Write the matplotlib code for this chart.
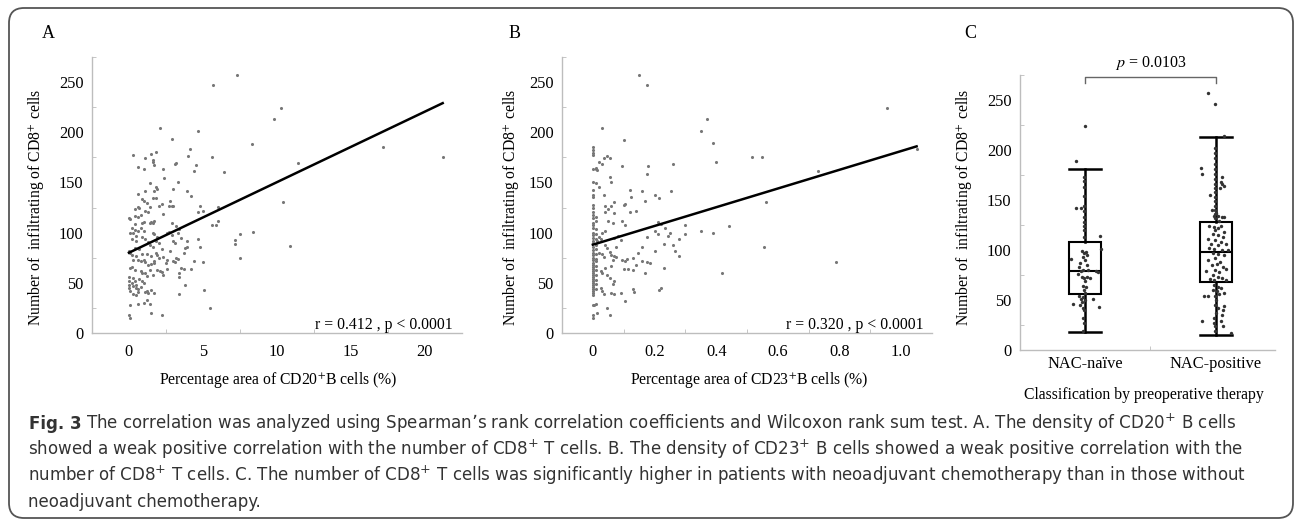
import matplotlib.pyplot as plt
from matplotlib.patches import FancyBboxPatch
from matplotlib.ticker import FixedLocator

# Panel A: CD20+ B cell area (%) vs CD8+ count
cd20_area = [7.3, 5.7, 10.3, 9.8, 4.7, 8.3, 17.2, 21.2, 5.6, 11.4, 6.4, 4.5, 4.4, 4.0, 4.1, 10.4,
             6.0, 4.8, 4.7, 5.0, 5.6, 5.9, 6.0, 7.2, 7.2, 7.5, 8.4, 10.9, 7.5, 4.7, 4.8, 4.4, 5.0,
             4.2, 5.1, 5.5,
             2.1, 2.9, 3.1, 3.2, 2.3, 2.4, 3.3, 3.0, 3.9, 4.2, 2.8, 2.9, 3.0, 2.7, 2.2, 2.3, 3.2,
             3.4, 3.3, 3.5, 2.6, 2.9, 3.0, 3.1, 2.9, 2.7, 3.9, 3.9, 3.8, 3.7, 2.8, 3.2, 3.3, 3.0,
             3.1, 2.6, 2.2, 2.3, 2.5, 3.5, 3.4, 3.4, 3.7, 3.8, 3.4, 2.6, 2.2, 2.3, 2.2, 2.1, 1.9,
             1.8, 1.5, 1.6, 1.7, 1.6, 0.3, 1.1, 0.6, 1.0, 1.4, 1.8, 1.9, 1.7, 0.6, 1.1, 0.9, 1.2,
             1.0, 1.6, 1.8, 2.0, 1.4, 0.4, 0.6, 0.7, 0.8, 0.4, 0.0, 0.1, 0.4, 0.2, 0.6, 1.1, 1.3,
             1.0, 0.9, 1.5, 1.4, 1.6, 1.7, 0.1, 0.3, 0.5, 0.4, 0.8, 1.0, 0.6, 0.2, 0.5, 0.9, 1.1,
             1.3, 1.6, 1.7, 1.9, 1.8, 2.0, 1.4, 1.6, 0.0, 0.1, 0.2, 0.4, 0.7, 0.5, 0.9, 1.2, 1.5,
             1.8, 1.9, 2.0, 1.7, 0.3, 0.6, 0.8, 1.0, 1.1, 1.3, 1.5, 1.7, 0.2, 0.4, 0.8, 0.9, 1.1,
             1.2, 1.4, 1.6, 0.0, 0.3, 0.4, 0.7, 0.9, 1.0, 0.2, 0.5, 0.0, 0.0, 0.1, 0.3, 0.5, 0.6,
             0.8, 0.3, 0.5, 0.6, 1.1, 1.3, 1.5, 1.7, 1.2, 0.1, 0.6, 1.0, 1.2, 1.4, 0.0, 0.1, 1.5,
             0.0, 0.1]
cd8_a = [257, 247, 224, 213, 201, 188, 185, 175, 175, 169, 160, 167, 161, 176, 183, 131,
         126, 127, 121, 122, 108, 108, 112, 93, 89, 99, 101, 87, 75, 94, 86, 72, 71,
         64, 43, 25,
         204, 193, 168, 169, 163, 154, 150, 143, 141, 137, 132, 127, 127, 127, 129, 119, 107,
         104, 100, 95, 100, 98, 92, 90, 110, 101, 92, 86, 85, 80, 82, 75, 74, 72,
         71, 73, 84, 76, 70, 65, 60, 56, 64, 48, 39, 64, 61, 58, 18, 62, 63,
         180, 178, 172, 167, 170, 177, 174, 165, 163, 149, 145, 143, 141, 139, 141, 134, 130,
         132, 135, 135, 127, 126, 124, 126, 125, 118, 117, 115, 114, 109, 105, 116, 122, 121,
         111, 110, 111, 110, 110, 112, 100, 100, 97, 103, 105, 102, 102, 94, 92, 96, 94,
         91, 100, 99, 96, 92, 90, 88, 86, 82, 80, 78, 85, 84, 77, 79, 79, 77,
         80, 78, 75, 72, 73, 73, 72, 73, 71, 68, 69, 70, 66, 63, 62, 60, 60,
         57, 63, 58, 56, 55, 52, 54, 52, 50, 50, 48, 48, 45, 42, 47, 45, 44,
         46, 39, 38, 41, 41, 40, 43, 40, 42, 28, 29, 30, 33, 29, 18, 15, 20,
         52, 65]

# Panel B: CD23+ B cell area (%) vs CD8+ count
cd23_area = [0.15, 0.175, 0.955, 0.37, 0.35, 0.39, 0.40, 0.515, 0.55, 1.05, 0.73, 0.56, 0.26,
             0.18, 0.175, 0.16, 0.17, 0.20, 0.215, 0.255, 0.10, 0.03, 0.095, 0.12, 0.125, 0.14,
             0.12, 0.10, 0.105, 0.095, 0.105, 0.21, 0.22, 0.235, 0.25, 0.245, 0.30, 0.30, 0.28,
             0.20, 0.21, 0.23, 0.26, 0.265, 0.28, 0.35, 0.39, 0.44, 0.20, 0.175, 0.16, 0.555,
             0.79, 0.42, 0.23, 0.17, 0.22, 0.215, 0.13, 0.135, 0.175, 0.185, 0.16, 0.145, 0.13,
             0.14, 0.13, 0.11, 0.105, 0.095, 0.115, 0.10, 0.09, 0.105, 0.08, 0.07, 0.09, 0.075,
             0.065, 0.07, 0.06, 0.07, 0.04, 0.05, 0.04, 0.05, 0.055, 0.06, 0.045, 0.055, 0.035,
             0.02, 0.03, 0.01, 0.015, 0.02, 0.035, 0.04, 0.03, 0.02, 0.025, 0.015, 0.04, 0.045,
             0.055, 0.06, 0.07, 0.075, 0.065, 0.02, 0.03, 0.035, 0.04, 0.06, 0.025, 0.03, 0.045,
             0.055, 0.07, 0.065, 0.06, 0.07, 0.025, 0.03, 0.035, 0.045, 0.055, 0.01, 0.005, 0.015,
             0, 0, 0, 0, 0, 0, 0, 0, 0, 0, 0, 0, 0, 0, 0, 0, 0, 0, 0, 0, 0, 0, 0, 0,
             0, 0, 0, 0, 0, 0, 0, 0, 0, 0, 0, 0, 0, 0, 0, 0, 0, 0, 0, 0, 0, 0, 0, 0,
             0.01, 0.01, 0.01, 0.01, 0.01, 0.01, 0.01, 0.01, 0.01, 0.01, 0.01, 0.01, 0.01, 0.01,
             0.01, 0.01, 0.01, 0.01]
cd8_b = [257, 247, 224, 213, 201, 189, 170, 175, 175, 183, 161, 131, 168,
         166, 158, 141, 132, 138, 135, 141, 192, 204, 166, 142, 136, 122,
         121, 128, 129, 112, 108, 111, 109, 105, 100, 97, 108, 99, 94,
         102, 99, 89, 88, 82, 77, 102, 100, 107, 82, 96, 86, 86,
         71, 60, 65, 60, 45, 43, 44, 41, 71, 70, 72, 80, 75,
         68, 63, 74, 72, 73, 64, 64, 40, 32, 97, 95, 93, 86,
         110, 120, 127, 131, 127, 124, 121, 112, 155, 150, 176, 174, 174,
         170, 168, 164, 162, 145, 138, 102, 100, 96, 94, 92, 88, 85,
         81, 78, 77, 76, 73, 80, 79, 76, 65, 67, 62, 60, 58,
         55, 52, 49, 40, 39, 45, 42, 39, 25, 18, 29, 28, 20,
         185, 182, 179, 177, 163, 150, 142, 138, 136, 128, 125, 121, 118, 115, 110, 108,
         105, 100, 98, 95, 92, 90, 86, 83, 80, 78, 75, 73, 70, 68, 66, 64, 62, 60, 58, 56,
         54, 52, 50, 48, 46, 44, 42, 40, 38, 28, 18, 15,
         163, 149, 116, 112, 104, 99, 94, 88, 84, 79, 74, 72, 67, 63, 58, 53, 49, 44]

# regression lines (intercept, slope, x end)
fit_a = (80, 7.03, 21.2)
fit_b = (88, 93.3, 1.05)

# Panel C: groups, box stats and jittered points
groups = ['NAC-naïve', 'NAC-positive']
box_stats = [
    dict(whislo=18, q1=56, med=79, q3=108, whishi=181),
    dict(whislo=15, q1=68, med=98, q3=128, whishi=213),
]
naive_vals = [224, 189, 173, 169, 163, 154, 144, 139, 133, 128, 124, 120, 113, 142, 142, 114, 101, 91,
              99, 97, 98, 95, 93, 90, 87, 83, 85, 80, 80, 79, 78, 73, 72, 73, 72, 69, 64, 63, 60, 57, 76, 79,
              54, 53, 51, 50, 46, 51, 43, 45, 42, 40, 48, 32, 27, 19]
naive_jit = [0, -0.071, -0.005, -0.005, -0.005, -0.005, -0.005, -0.005, -0.005, -0.005, -0.005, -0.005,
             -0.005, -0.069, -0.033, 0.115, 0.12, -0.107,
             -0.025, -0.008, 0.008, 0.013, -0.013, 0, -0.038, -0.044, 0.013, -0.018, 0.025, 0.084, 0.102,
             -0.025, -0.008, 0.013, 0.038, 0, -0.013, 0.008, -0.008, 0, -0.051, -0.033,
             -0.044, -0.013, -0.033, 0, -0.094, 0.059, 0.109, -0.038, -0.018, -0.008, -0.025, -0.013,
             -0.008, -0.018]
positive_vals = [257, 246, 214, 202, 197, 192, 186, 181, 176, 171, 166, 162, 158, 153, 149, 144, 140, 136, 132,
                 182, 176, 173, 168, 164, 162, 166, 155, 140, 137, 134, 133, 133, 129, 134,
                 124, 123, 122, 124, 120, 118, 116, 115, 111, 113, 110, 108, 106, 106, 105, 102, 101, 100,
                 100, 97, 96, 95, 92, 90, 88, 86, 85, 83, 81, 80, 78, 79, 75, 73, 72, 71, 70, 70,
                 65, 63, 62, 60, 59, 56, 54, 57, 54, 54, 50, 45, 42, 44, 40, 37, 35, 32, 27, 29, 29,
                 24, 24, 17, 19]
positive_jit = [-0.063, -0.008, 0.063, -0.008, -0.008, -0.008, -0.008, -0.008, -0.008, -0.008, -0.008,
                -0.008, -0.008, -0.008, -0.008, -0.008, -0.008, -0.008, -0.008,
                -0.115, -0.109, 0.048, 0.038, 0.059, 0.033, 0.044, -0.044, -0.033, 0, 0.013, 0.044, 0.063,
                0.025, -0.013,
                -0.051, -0.018, 0.013, 0.038, -0.008, 0.063, -0.025, 0.013, -0.063, 0.051, -0.008, 0.038,
                -0.038, 0.076, 0.013, -0.051, -0.013, 0.044, 0.089, -0.025, 0.013, 0.059, -0.008, -0.063,
                0.033, 0.008, -0.033, 0.051, 0.076, -0.008, 0.025, -0.076, -0.025, 0.013, 0.044, -0.044,
                -0.013, 0.076,
                -0.013, 0.013, 0.038, -0.025, 0.008, 0.025, -0.008, 0.063, -0.089, -0.063, 0, -0.008,
                0.013, 0.063, 0.051, 0, 0.044, -0.013, -0.018, 0.038, -0.109, -0.008, 0.051, 0.115, -0.008]

y_ticks = [0, 50, 100, 150, 200, 250]
y_minor = [25, 75, 125, 175, 225, 275]
ylab = r'Number of  infiltrating of CD8$^{+}$ cells'

SERIF = 'Liberation Serif'
AXIS_GREY = '#bdbdbd'
FS = 11.3

fig = plt.figure(figsize=(12.95, 5.21), dpi=100)


def style_axes(ax, xminor):
    for side in ['top', 'right']:
        ax.spines[side].set_visible(False)
    for side in ['left', 'bottom']:
        ax.spines[side].set_color(AXIS_GREY)
        ax.spines[side].set_linewidth(1.0)
    ax.set_ylim(0, 275)
    ax.set_yticks(y_ticks)
    ax.yaxis.set_minor_locator(FixedLocator(y_minor))
    ax.xaxis.set_minor_locator(FixedLocator(xminor))
    ax.tick_params(which='major', length=0, labelsize=FS + 0.5, pad=6)
    ax.tick_params(which='minor', length=3, direction='in', color=AXIS_GREY)
    for lab in ax.get_xticklabels() + ax.get_yticklabels():
        lab.set_fontfamily(SERIF)


def scatter_panel(rect, xs, ys, fit, xlim, xticks, xtlabels, xminor, xlabel, rtext, ylab_x):
    ax = fig.add_axes(rect)
    ax.scatter(xs, ys, s=5, color='#777777', linewidths=0, zorder=2)
    b0, b1, xend = fit
    ax.plot([0, xend], [b0, b0 + b1 * xend], color='black', lw=1.8, zorder=3)
    ax.set_xlim(*xlim)
    ax.set_xticks(xticks)
    ax.set_xticklabels(xtlabels)
    style_axes(ax, xminor)
    ax.tick_params(axis='x', which='major', pad=8)
    ax.set_ylabel(ylab, fontsize=FS, family=SERIF, math_fontfamily='stix')
    ax.yaxis.set_label_coords(ylab_x, 0.457)
    ax.set_xlabel(xlabel, fontsize=FS, family=SERIF, math_fontfamily='stix')
    ax.xaxis.set_label_coords(0.505, -0.135)
    ax.text(0.976, 0.03, rtext, transform=ax.transAxes, ha='right', va='center',
            fontsize=FS, family=SERIF)
    return ax


scatter_panel([0.0710, 0.3608, 0.2857, 0.5298], cd20_area, cd8_a, fit_a, (-2.5, 22.5),
              [0, 5, 10, 15, 20], ['0', '5', '10', '15', '20'], [2.5, 7.5, 12.5, 17.5],
              r'Percentage area of CD20$^{+}$B cells (%)', 'r = 0.412 , p < 0.0001', -0.125)
scatter_panel([0.4340, 0.3608, 0.2857, 0.5298], cd23_area, cd8_b, fit_b, (-0.1, 1.1),
              [0, 0.2, 0.4, 0.6, 0.8, 1.0], ['0', '0.2', '0.4', '0.6', '0.8', '1.0'],
              [0.1, 0.3, 0.5, 0.7, 0.9],
              r'Percentage area of CD23$^{+}$B cells (%)', 'r = 0.320 , p < 0.0001', -0.112)

# Panel C
ax_c = fig.add_axes([0.7876, 0.3282, 0.1969, 0.5278])
ax_c.bxp(box_stats, positions=[1, 2], widths=0.25, showfliers=False, patch_artist=True,
         boxprops=dict(facecolor='white', edgecolor='black', linewidth=1.5),
         medianprops=dict(color='black', linewidth=1.5),
         whiskerprops=dict(color='black', linewidth=1.8),
         capprops=dict(color='black', linewidth=1.8), capwidths=0.25, zorder=2)
ax_c.scatter([1 + j for j in naive_jit], naive_vals, s=6, color='#333333', linewidths=0, zorder=3)
ax_c.scatter([2 + j for j in positive_jit], positive_vals, s=6, color='#333333', linewidths=0, zorder=3)
ax_c.set_xlim(0.504, 2.45)
ax_c.set_xticks([1, 2])
ax_c.set_xticklabels(groups)
style_axes(ax_c, [1.5])
ax_c.tick_params(axis='x', which='major', pad=4)
ax_c.set_ylabel(ylab, fontsize=FS, family=SERIF, math_fontfamily='stix')
ax_c.yaxis.set_label_coords(-0.18, 0.52)
ax_c.set_xlabel('Classification by preoperative therapy', fontsize=FS, family=SERIF)
ax_c.xaxis.set_label_coords(0.486, -0.135)
ax_c.plot([1, 1, 2, 2], [267, 273, 273, 267], color='#666666', lw=1.0, clip_on=False)
ax_c.text(1.5, 287, r'$p$ = 0.0103', ha='center', va='center', fontsize=FS + 0.2,
          family=SERIF, math_fontfamily='stix', clip_on=False)

# panel letters
for letter, px in [('A', 48), ('B', 515), ('C', 970)]:
    fig.text(px / 1295, 1 - 33 / 521, letter, ha='center', va='center', fontsize=13, family=SERIF)

# caption
CAP_FONT = 'DejaVu Sans'
CAP_FS = 13.3
CAP_COLOR = '#333333'
cap_lines = [
    r'The correlation was analyzed using Spearman’s rank correlation coefficients and Wilcoxon rank sum test. A. The density of CD20$^{+}$ B cells',
    r'showed a weak positive correlation with the number of CD8$^{+}$ T cells. B. The density of CD23$^{+}$ B cells showed a weak positive correlation with the',
    r'number of CD8$^{+}$ T cells. C. The number of CD8$^{+}$ T cells was significantly higher in patients with neoadjuvant chemotherapy than in those without',
    'neoadjuvant chemotherapy.',
]
cap_y = [429, 455, 481, 507]
fig.text(29 / 1295, 1 - cap_y[0] / 521, 'Fig. 3', fontsize=CAP_FS, fontweight='bold',
         family=CAP_FONT, fontstretch='condensed', va='baseline', color=CAP_COLOR)
fig.text(86 / 1295, 1 - cap_y[0] / 521, cap_lines[0], fontsize=CAP_FS, family=CAP_FONT,
         fontstretch='condensed', va='baseline', color=CAP_COLOR)
for line, py in zip(cap_lines[1:], cap_y[1:]):
    fig.text(28 / 1295, 1 - py / 521, line, fontsize=CAP_FS, family=CAP_FONT,
             fontstretch='condensed', va='baseline', color=CAP_COLOR)

# rounded frame
frame = FancyBboxPatch((0.09, 0.03), 12.84, 5.10, boxstyle='round,pad=0,rounding_size=0.15',
                       transform=fig.dpi_scale_trans, facecolor='none', edgecolor='#555555',
                       linewidth=1.3)
fig.patches.append(frame)

fig.savefig('out.png', dpi=100)
